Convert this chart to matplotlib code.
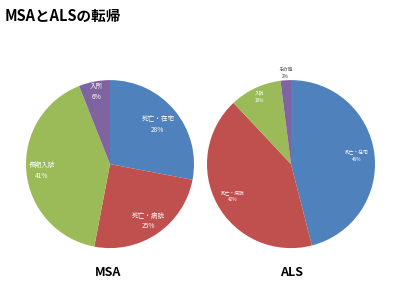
import numpy as np
import matplotlib
matplotlib.use("Agg")
import matplotlib.pyplot as plt

plt.rcParams['font.family'] = ['Noto Sans CJK JP', 'DejaVu Sans']

title = "MSAとALSの転帰"
msa_labels = ["死亡・在宅", "死亡・病院", "長期入院", "入所"]
msa_values = [28, 25, 41, 6]
als_labels = ["死亡・在宅", "死亡・病院", "入院", "その他"]
als_values = [46, 42, 10, 2]
colors = ["#4F81BD", "#C0504D", "#9BBB59", "#8064A2"]

fig = plt.figure(figsize=(4, 3), dpi=100)
fig.patch.set_facecolor("white")

fig.text(0.012, 0.947, title, fontsize=10.5, fontweight="bold", ha="left", va="center")


def draw(ax, labels, values, dists, fsize, colors_txt, lsp):
    ax.pie(values, colors=colors, startangle=90, counterclock=False,
           wedgeprops=dict(linewidth=0))
    total = sum(values)
    cum = 0
    for lab, v, d, c in zip(labels, values, dists, colors_txt):
        mid = 90 - 360 * (cum + v / 2) / total
        cum += v
        x = d * np.cos(np.radians(mid))
        y = d * np.sin(np.radians(mid))
        ax.text(x, y, f"{lab}\n{v}%", ha="center", va="center", fontsize=fsize,
                color=c, linespacing=lsp)
    ax.set_xlim(-1, 1)
    ax.set_ylim(-1, 1)
    ax.set_aspect("equal")
    ax.axis("off")


ax1 = fig.add_axes([0.065, 0.173, 0.42, 0.56])
draw(ax1, msa_labels, msa_values, [0.74, 0.82, 0.82, 0.88], 4.8,
     ["white", "white", "white", "white"], 1.4)

ax2 = fig.add_axes([0.5175, 0.173, 0.42, 0.56])
draw(ax2, als_labels, als_values, [0.79, 0.79, 0.88, 1.09], 3.4,
     ["white", "white", "white", "#404040"], 1.6)

fig.text(108 / 400, 1 - 272 / 300, "MSA", fontsize=9, fontweight="bold", ha="center", va="center")
fig.text(292 / 400, 1 - 272 / 300, "ALS", fontsize=9, fontweight="bold", ha="center", va="center")

fig.savefig("out.png", dpi=100)
